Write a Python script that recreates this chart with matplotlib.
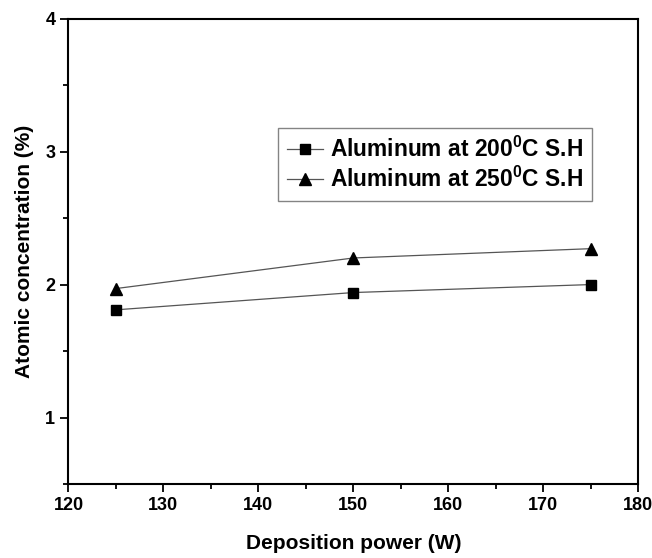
import matplotlib.pyplot as plt
from matplotlib.ticker import MultipleLocator

plt.rcParams['font.family'] = 'Liberation Sans'
plt.rcParams['font.weight'] = 'bold'
plt.rcParams['mathtext.fontset'] = 'custom'
plt.rcParams['mathtext.rm'] = 'Liberation Sans:bold'
plt.rcParams['mathtext.bf'] = 'Liberation Sans:bold'

# Data
power = [125, 150, 175]  # W
al_200 = [1.81, 1.94, 2.00]  # %
al_250 = [1.97, 2.20, 2.27]  # %

fig = plt.figure(figsize=(6.52, 5.58), dpi=100)
ax = fig.add_axes([0.105, 0.1326, 0.874, 0.834])

ax.plot(power, al_200, color='#555555', lw=0.9, marker='s', ms=6.5,
        mfc='black', mec='black', label='Aluminum at 200$^0$C S.H')
ax.plot(power, al_250, color='#555555', lw=0.9, marker='^', ms=8,
        mfc='black', mec='black', label='Aluminum at 250$^0$C S.H')

ax.set_xlim(120, 180)
ax.set_ylim(0.5, 4)
ax.xaxis.set_major_locator(MultipleLocator(10))
ax.xaxis.set_minor_locator(MultipleLocator(5))
ax.yaxis.set_major_locator(MultipleLocator(1))
ax.yaxis.set_minor_locator(MultipleLocator(0.5))
ax.set_yticks([1, 2, 3, 4])
ax.tick_params(which='major', direction='out', length=6, width=1.3, labelsize=13)
ax.tick_params(which='minor', direction='out', length=3.5, width=1.3)
for lab in ax.get_xticklabels() + ax.get_yticklabels():
    lab.set_fontweight('bold')
for s in ax.spines.values():
    s.set_linewidth(1.5)

ax.set_xlabel('Deposition power (W)', fontsize=15, fontweight='bold', labelpad=14)
ax.set_ylabel('Atomic concentration (%)', fontsize=15, fontweight='bold', labelpad=8)

leg = ax.legend(loc='upper left', bbox_to_anchor=(0.367, 0.765), borderaxespad=0,
                fontsize=16.4, frameon=True, fancybox=False, edgecolor='#666666',
                handlelength=1.6, handletextpad=0.3, borderpad=0.4, labelspacing=0.2)
leg.get_frame().set_linewidth(1.0)

plt.savefig('out.png', dpi=100)
